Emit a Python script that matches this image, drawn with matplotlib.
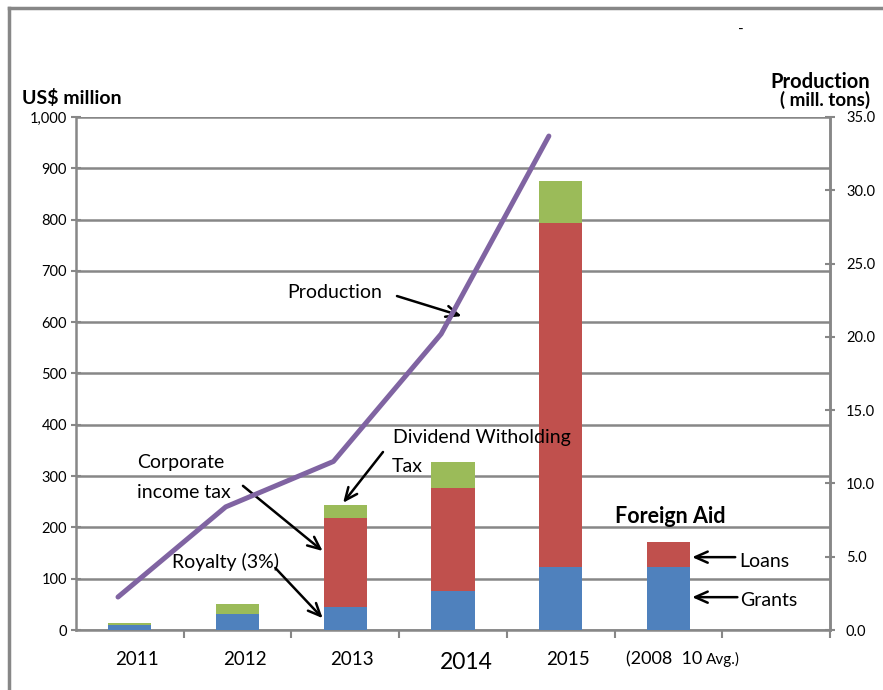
import matplotlib
matplotlib.use("Agg")
import matplotlib.pyplot as plt
from matplotlib.lines import Line2D
import numpy as np

plt.rcParams['font.family'] = ['Lato', 'DejaVu Sans']

# ---- data ----
categories = ["2011", "2012", "2013", "2014", "2015", "(2008  10", ""]
royalty_grants = [10, 31, 44, 76, 123, 123]      # blue
income_tax_loans = [0, 0, 174, 201, 670, 49]     # red
dividend_tax = [4, 20, 26, 50, 82, 0]            # green
production = [2.25, 8.4, 11.5, 20.2, 33.7]       # mill. tons (right axis)
left_ticks = [0, 100, 200, 300, 400, 500, 600, 700, 800, 900, 1000]
right_ticks = [0, 5, 10, 15, 20, 25, 30, 35]

BLUE = "#4F81BD"
RED = "#C0504D"
GREEN = "#9BBB59"
PURPLE = "#8064A2"
GRAY = "#878787"

fig = plt.figure(figsize=(8.83, 6.9), dpi=100)
W, H = 883, 690
ax = fig.add_axes([76 / W, 1 - 630 / H, (830 - 76) / W, (630 - 117) / H])

n = len(royalty_grants)
x = np.arange(n)
bw = 0.4
b1 = np.array(royalty_grants, float)
b2 = np.array(income_tax_loans, float)
b3 = np.array(dividend_tax, float)
ax.bar(x, b1, bw, color=BLUE, zorder=3)
ax.bar(x, b2, bw, bottom=b1, color=RED, zorder=3)
ax.bar(x, b3, bw, bottom=b1 + b2, color=GREEN, zorder=3)

ax.set_xlim(-0.5, len(categories) - 0.5)
ax.set_ylim(0, 1000)
ax.set_yticks(left_ticks)
ax.set_yticklabels([f"{v:,}" for v in left_ticks], fontsize=10.5)
ax.yaxis.grid(True, color=GRAY, lw=1.8, zorder=0)
ax.set_axisbelow(True)
ax.tick_params(axis='y', direction='inout', length=7, width=1.5, color=GRAY, pad=3)

# x ticks at category boundaries; category labels drawn as text under each slot
ax.set_xticks(np.arange(len(categories)) + 0.5)
ax.set_xticklabels([])
ax.tick_params(axis='x', which='major', direction='out', length=6, width=1.5, color=GRAY)
xt = ax.get_xaxis_transform()
for i, c in enumerate(categories):
    if not c:
        continue
    if c == "2014":
        ax.text(i + 0.12, -0.063, c, transform=xt, fontsize=16.5, ha='center', va='center')
    elif c.startswith("(2008"):
        ax.text(i + 0.31, -0.058, c, transform=xt, fontsize=13, ha='right', va='center')
        ax.text(i + 0.35, -0.058, "Avg.)", transform=xt, fontsize=11, ha='left', va='center')
    else:
        ax.text(i + 0.065, -0.058, c, transform=xt, fontsize=13.5, ha='center', va='center')

for s in ['top']:
    ax.spines[s].set_visible(False)
for s in ['left', 'bottom', 'right']:
    ax.spines[s].set_color(GRAY)
    ax.spines[s].set_linewidth(1.8)

ax2 = ax.twinx()
ax2.set_ylim(0, 35)
ax2.set_yticks(right_ticks)
ax2.set_yticklabels([f"{v:.1f}" for v in right_ticks], fontsize=10.5)
ax2.tick_params(axis='y', direction='inout', length=7, width=1.5, color=GRAY, pad=8)
for s in ['top', 'left', 'bottom']:
    ax2.spines[s].set_visible(False)
ax2.spines['right'].set_color(GRAY)
ax2.spines['right'].set_linewidth(1.8)
px = np.arange(len(production)) - 0.11
ax2.plot(px, production, color=PURPLE, lw=3.6, solid_capstyle='round', zorder=4)

# axis titles
fig.text(22 / W, 1 - 98 / H, "US$ million", fontsize=14, fontweight='bold', ha='left', va='center')
fig.text(870 / W, 1 - 82 / H, "Production", fontsize=14.5, fontweight='bold', ha='right', va='center')
fig.text(870 / W, 1 - 100 / H, "( mill. tons)", fontsize=13.5, fontweight='bold', ha='right', va='center')
fig.text(741 / W, 1 - 30 / H, "-", fontsize=11, ha='center', va='center')

# annotations
ap = dict(arrowstyle='->,head_width=0.4,head_length=0.9', color='black', lw=1.8, shrinkA=0, shrinkB=0)
fs = 14
ax.text(1.90, 657, "Production", fontsize=fs, ha='center', va='center', zorder=6)
ax.annotate("", xy=(3.08, 612), xytext=(2.48, 651), arrowprops=ap, zorder=6)

ax.text(2.44, 376, "Dividend Witholding", fontsize=fs, ha='left', va='center', zorder=6)
ax.text(2.43, 318, "Tax", fontsize=fs, ha='left', va='center', zorder=6)
ax.annotate("", xy=(1.98, 248), xytext=(2.35, 347), arrowprops=ap, zorder=6)

ax.text(0.066, 326, "Corporate", fontsize=fs, ha='left', va='center', zorder=6)
ax.text(0.066, 269, "income tax", fontsize=fs, ha='left', va='center', zorder=6)
ax.annotate("", xy=(1.79, 154), xytext=(1.05, 281), arrowprops=ap, zorder=6)

ax.text(0.39, 133, "Royalty (3%)", fontsize=fs, ha='left', va='center', zorder=6)
ax.annotate("", xy=(1.79, 23), xytext=(1.35, 121), arrowprops=ap, zorder=6)

ax.text(4.50, 222, "Foreign Aid", fontsize=15.5, fontweight='bold', ha='left', va='center', zorder=6)
ax.text(5.66, 133, "Loans", fontsize=fs, ha='left', va='center', zorder=6)
ax.annotate("", xy=(5.22, 142), xytext=(5.62, 142), arrowprops=ap, zorder=6)
ax.text(5.67, 57, "Grants", fontsize=fs, ha='left', va='center', zorder=6)
ax.annotate("", xy=(5.22, 64), xytext=(5.64, 64), arrowprops=ap, zorder=6)

# outer frame lines
fig.add_artist(Line2D([9 / W, 1.0], [1 - 8 / H, 1 - 8 / H], color=GRAY, lw=2.5, transform=fig.transFigure))
fig.add_artist(Line2D([9 / W, 9 / W], [1 - 8 / H, 0.0], color=GRAY, lw=2.5, transform=fig.transFigure))

fig.savefig("out.png", dpi=100)
